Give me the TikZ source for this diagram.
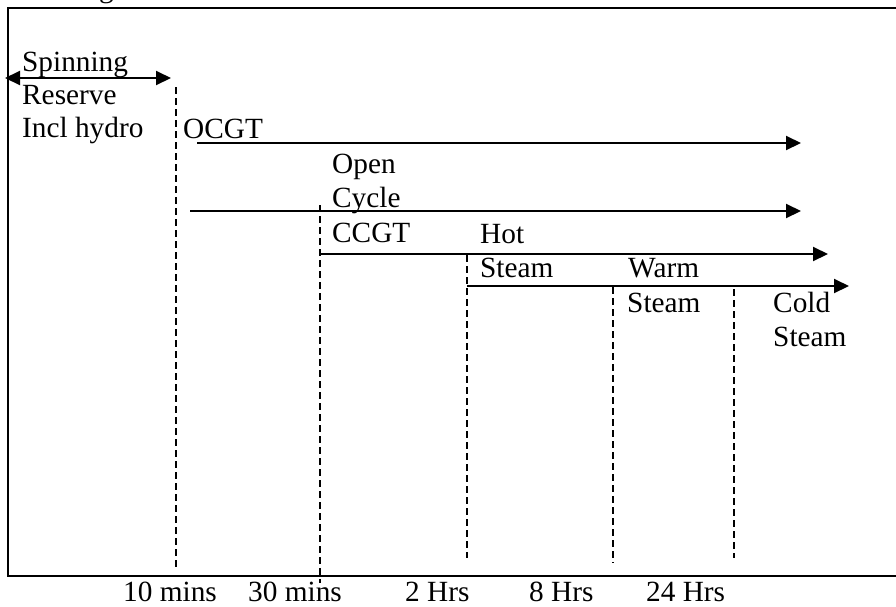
\documentclass[tikz,border=0pt]{standalone}
\usepackage{fontspec}
\setmainfont{Liberation Serif}
\usetikzlibrary{arrows.meta}
\begin{document}
\begin{tikzpicture}[x=1pt,y=-1pt,
  lbl/.style={anchor=base west,inner sep=0pt,font=\fontsize{29.3}{33}\selectfont},
  axislbl/.style={lbl,text depth=0pt},
  flow/.style={line width=2pt,-{Triangle[length=15pt,width=14pt]}},
  bothflow/.style={line width=2pt,{Triangle[length=15pt,width=14pt]}-{Triangle[length=15pt,width=14pt]}},
  guide/.style={line width=1.5pt,dash pattern=on 7pt off 4pt},
  frameline/.style={line width=2.2pt}]
\useasboundingbox (0,0) rectangle (896,606);
% frame (right side lies beyond the picture)
\draw[frameline] (920,8) -- (8,8) -- (8,576) -- (920,576);
% clipped title fragment
\node[lbl] (title) at (99,-3) {g};
% left block
\node[lbl] (spin) at (22,71) {Spinning};
\node[lbl] (res) at (22,104) {Reserve};
\node[lbl] (incl) at (22,137) {Incl hydro};
\coordinate (spinL) at (5,78);
\coordinate (spinR) at (171,78);
\draw[bothflow] (spinL) -- (spinR);
% guide lines
\coordinate (g1t) at (176,87);  \coordinate (g1b) at (176,567);
\coordinate (g2t) at (320,205); \coordinate (g2b) at (320,583);
\coordinate (g3t) at (467,255); \coordinate (g3b) at (467,558);
\coordinate (g4t) at (613,287); \coordinate (g4b) at (613,563);
\coordinate (g5t) at (734,289); \coordinate (g5b) at (734,558);
\draw[guide] (g1t) -- (g1b);
\draw[guide] (g2t) -- (g2b);
\draw[guide] (g3t) -- (g3b);
\draw[guide] (g4t) -- (g4b);
\draw[guide] (g5t) -- (g5b);
% OCGT
\node[lbl] (ocgt) at (183,138) {OCGT};
\coordinate (a1s) at (197,143); \coordinate (a1e) at (801,143);
\draw[flow] (a1s) -- (a1e);
% Open cycle
\node[lbl] (open) at (332,173) {Open};
\node[lbl] (cycle) at (332,207) {Cycle};
\coordinate (a2s) at (190,211); \coordinate (a2e) at (801,211);
\draw[flow] (a2s) -- (a2e);
% CCGT
\node[lbl] (ccgt) at (332,242) {CCGT};
\coordinate (a3s) at (321,254); \coordinate (a3e) at (828,254);
\draw[flow] (a3s) -- (a3e);
% Hot steam
\node[lbl] (hot) at (480,243) {Hot};
\node[lbl] (hots) at (480,277) {Steam};
\coordinate (a4s) at (467,286); \coordinate (a4e) at (849,286);
\draw[flow] (a4s) -- (a4e);
% Warm steam
\node[lbl] (warm) at (628,277) {Warm};
\node[lbl] (warms) at (627,312) {Steam};
% Cold steam
\node[lbl] (cold) at (773,312) {Cold};
\node[lbl] (colds) at (773,346) {Steam};
% axis labels
\node[axislbl] (t1) at (123,601) {10 mins};
\node[axislbl] (t2) at (248,601) {30 mins};
\node[axislbl] (t3) at (405,601) {2 Hrs};
\node[axislbl] (t4) at (529,601) {8 Hrs};
\node[axislbl] (t5) at (646,601) {24 Hrs};
\end{tikzpicture}
\end{document}
